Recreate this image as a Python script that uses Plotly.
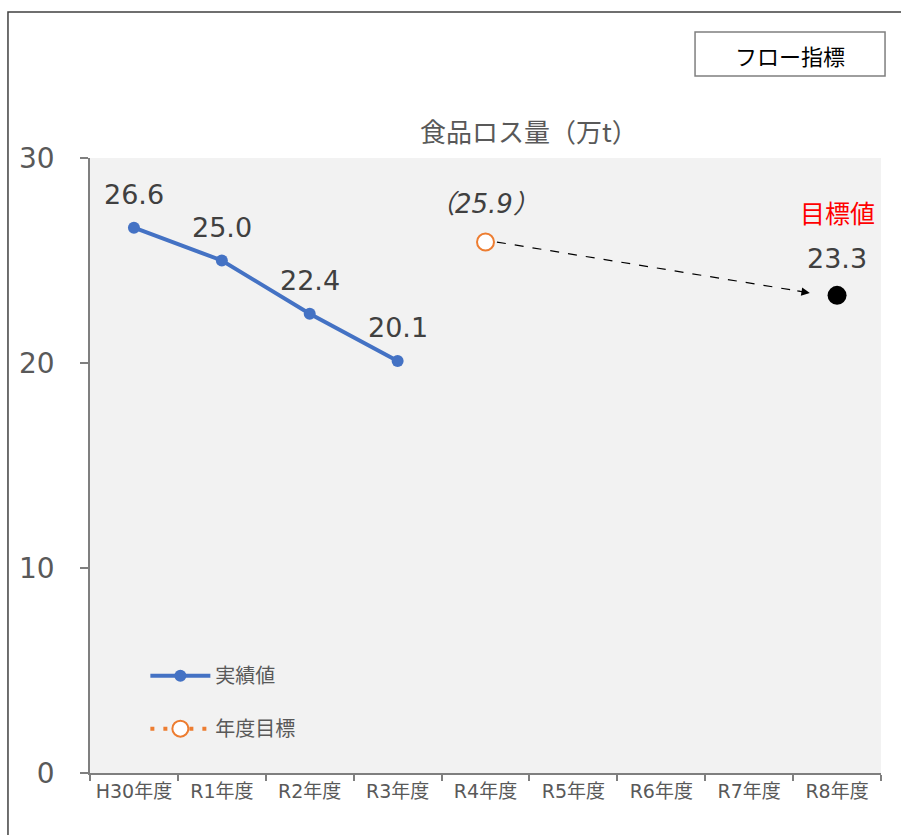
import plotly.graph_objects as go

categories = ["H30年度", "R1年度", "R2年度", "R3年度", "R4年度", "R5年度", "R6年度", "R7年度", "R8年度"]
actual_cats = ["H30年度", "R1年度", "R2年度", "R3年度"]
actual_vals = [26.6, 25.0, 22.4, 20.1]
annual_cat = ["R4年度"]
annual_val = [25.9]
target_cat = ["R8年度"]
target_val = [23.3]
y_ticks = [0, 10, 20, 30]

FONT = "DejaVu Sans, Noto Sans CJK JP"
CJK = "Noto Sans CJK JP"
GRAY = "#595959"
DARK = "#404040"

fig = go.Figure()
fig.add_trace(go.Scatter(
    x=actual_cats, y=actual_vals, mode="lines+markers", name="実績値",
    legendgroup="a",
    line=dict(color="#4472C4", width=4), marker=dict(size=12, color="#4472C4"),
))
fig.add_trace(go.Scatter(
    x=annual_cat, y=annual_val, mode="lines+markers", name="年度目標",
    legendgroup="b",
    line=dict(color="#ED7D31", width=4, dash="4px,9px"),
    marker=dict(size=17, color="white", line=dict(color="#ED7D31", width=2)),
))
fig.add_trace(go.Scatter(
    x=target_cat, y=target_val, mode="markers", name="目標値", showlegend=False,
    marker=dict(size=19, color="black"),
))

ann = []
for c, v in zip(actual_cats, actual_vals):
    ann.append(dict(x=c, y=v, text=f"{v:.1f}", showarrow=False, yshift=33,
                    font=dict(size=27, color=DARK, family=FONT)))
for c, v in zip(annual_cat, annual_val):
    ann.append(dict(x=c, y=v, text=f"<i>（{v:.1f}）</i>", showarrow=False, yshift=38, xshift=-2,
                    font=dict(size=26, color=DARK, family=FONT)))
for c, v in zip(target_cat, target_val):
    ann.append(dict(x=c, y=v, text=f"{v:.1f}", showarrow=False, yshift=37,
                    font=dict(size=27, color=DARK, family=FONT)))
    ann.append(dict(x=c, y=v, text="目標値", showarrow=False, yshift=83,
                    font=dict(size=25, color="#FF0000", family=CJK)))

# dashed arrow from annual target to final target
i0 = categories.index(annual_cat[0])
i1 = categories.index(target_cat[0])
x_start, y_start = i0 + 0.13, annual_val[0]
x_end, y_end = i1 - 0.31, 23.42
shapes = [
    dict(type="line", xref="x", yref="y", x0=x_start, y0=y_start, x1=x_end - 0.12, y1=y_end + 0.085,
         line=dict(color="black", width=1.2, dash="dash")),
]
ann.append(dict(x=x_end, y=y_end, xref="x", yref="y", ax=-14, ay=-2.3, showarrow=True,
                arrowhead=2, arrowsize=1.4, arrowwidth=1.2, arrowcolor="black", text=""))

ann.append(dict(x=0.555, y=1.0455, xref="paper", yref="paper", text="食品ロス量（万t）",
                xanchor="center", yanchor="middle",
                showarrow=False, font=dict(size=26, color=GRAY, family=CJK)))
ann.append(dict(x=0.885, y=1.1675, xref="paper", yref="paper", text="フロー指標",
                xanchor="center", yanchor="middle",
                showarrow=False, font=dict(size=22, color="black", family=CJK)))

shapes += [
    dict(type="rect", xref="paper", yref="paper", x0=-0.1037, x1=1.0303, y0=-0.109, y1=1.2374,
         line=dict(color="#404040", width=1.5), layer="below"),
    dict(type="rect", xref="paper", yref="paper", x0=0.7649, x1=1.0051, y0=1.1333, y1=1.2049,
         line=dict(color="#7F7F7F", width=1.5), fillcolor="white", layer="below"),
]

fig.update_layout(
    width=901, height=835,
    margin=dict(l=90, r=20, t=158, b=62),
    paper_bgcolor="white", plot_bgcolor="#F2F2F2",
    font=dict(family=FONT, color=GRAY),
    annotations=ann, shapes=shapes,
    legend=dict(x=0.07, y=0.19, xanchor="left", yanchor="top", bgcolor="rgba(0,0,0,0)",
                font=dict(size=20, color=GRAY, family=CJK), tracegroupgap=24,
                traceorder="grouped", itemwidth=60),
    showlegend=True,
)
fig.update_xaxes(
    type="category", categoryorder="array", categoryarray=categories,
    range=[-0.5, len(categories) - 0.5],
    showline=True, linecolor="#7F7F7F", linewidth=2,
    ticks="outside", tickson="boundaries", ticklen=6, tickcolor="#7F7F7F", tickwidth=2,
    tickfont=dict(size=19, color=GRAY, family=FONT), showgrid=False,
)
fig.update_yaxes(
    range=[0, 30], tickvals=y_ticks, showline=True, linecolor="#7F7F7F", linewidth=1.5,
    ticks="outside", ticklen=8, tickcolor="#7F7F7F", tickwidth=1.5,
    tickfont=dict(size=28, color=GRAY, family=FONT), showgrid=False, zeroline=False,
    ticklabelstandoff=20,
)

fig.write_html("out.html")
